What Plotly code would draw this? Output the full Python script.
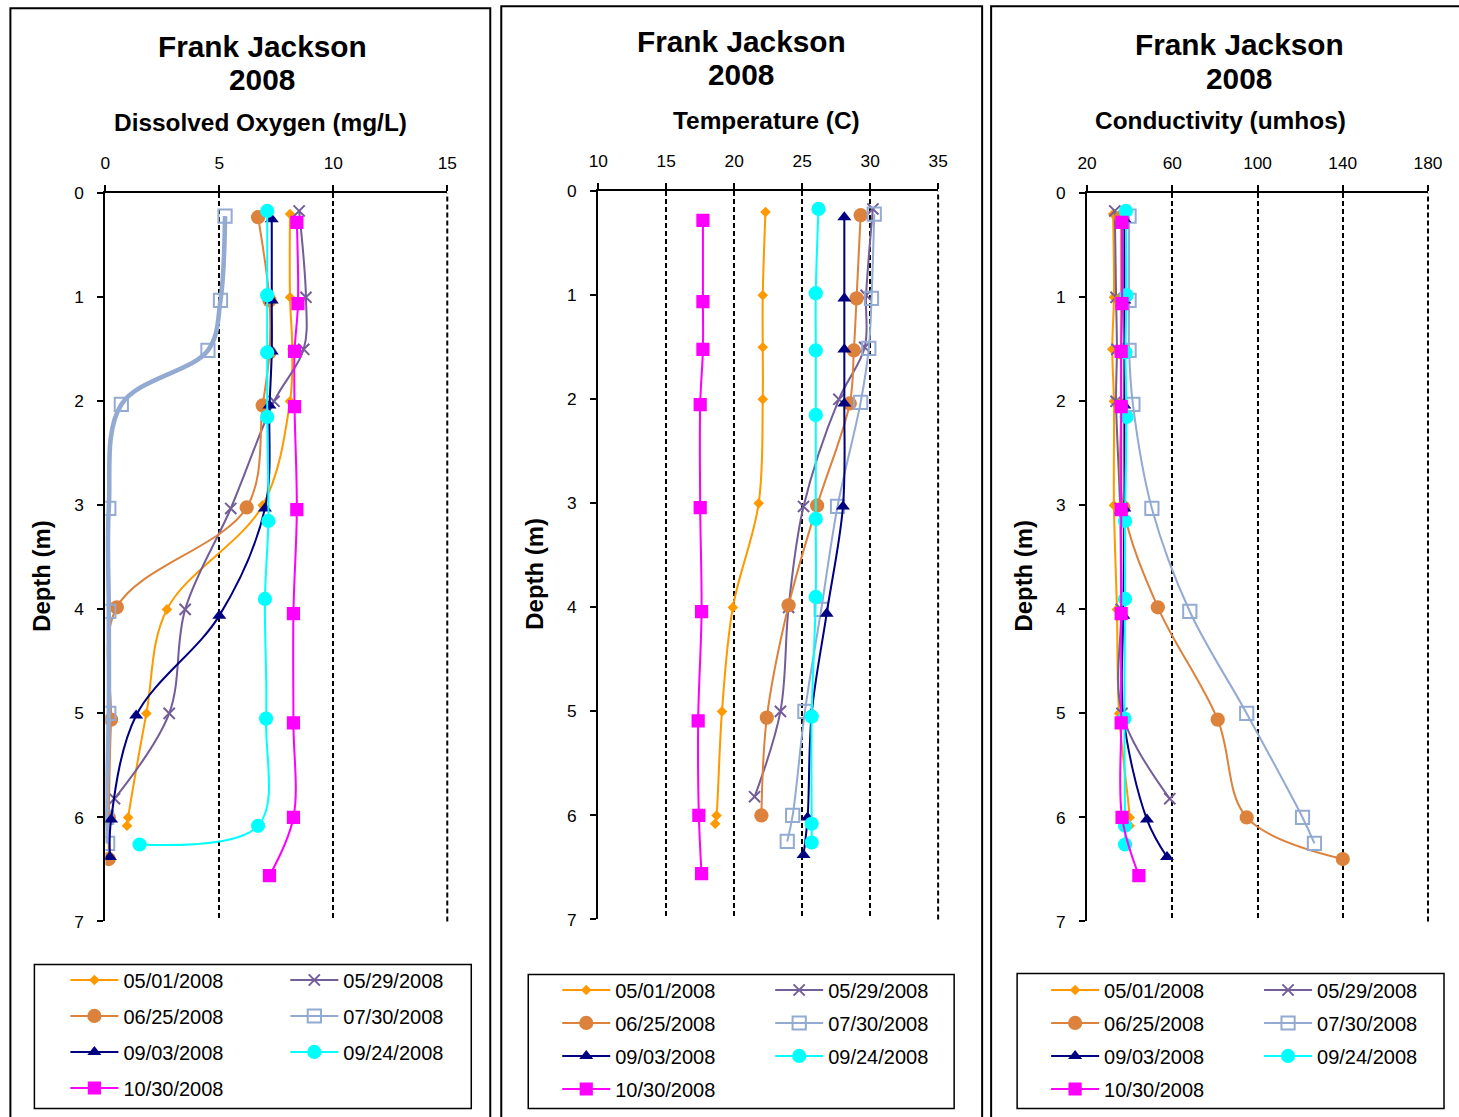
import plotly.graph_objects as go

# The photographed page is offset and slightly reduced relative to the figure;
# layout positions below are written in reference-image pixels and converted.
REF_W, REF_H = 1459, 1117
OX, OY = 8.6, 8.8          # page offset seen in the photo
SX, SY = 0.984, 0.982      # photo reduction factors
SZ = 1 / 0.983             # size compensation for fonts / markers
W = int(round((REF_W - OX) / SX)) + 1
H = int(round((REF_H - OY) / SY)) + 1

# ---------------- data ----------------
DATES = ["05/01/2008", "05/29/2008", "06/25/2008", "07/30/2008",
         "09/03/2008", "09/24/2008", "10/30/2008"]

# sampling depths (m) for each date
DEPTH_0501 = [0.2, 1.0, 1.5, 2.0, 3.0, 4.0, 5.0, 6.0, 6.08]
DEPTH_0529 = [0.17, 1.0, 1.5, 2.0, 3.03, 4.0, 5.0, 5.82]
DEPTH_0625 = [0.23, 1.03, 1.53, 2.04, 3.02, 3.98, 5.06, 6.0, 6.4]
DEPTH_0730 = [0.22, 1.03, 1.51, 2.03, 3.03, 4.02, 5.0, 6.0, 6.25]
DEPTH_0903 = [0.25, 1.03, 1.52, 2.04, 3.03, 4.06, 5.02, 6.02, 6.38]
DEPTH_0924 = [0.17, 0.98, 1.53, 2.15, 3.15, 3.9, 5.05, 6.08, 6.26]
DEPTH_1030 = [0.28, 1.06, 1.52, 2.05, 3.04, 4.04, 5.09, 6.0, 6.56]

# Dissolved oxygen (mg/L)
DO_0501 = [8.1, 8.1, 8.2, 8.1, 6.9, 2.7, 1.8, 1.0, 0.95]
DO_0529 = [8.5, 8.8, 8.7, 7.4, 5.5, 3.5, 2.8, 0.4]
DO_0625 = [6.7, 7.2, 7.2, 6.9, 6.2, 0.5, 0.25, 0.15, 0.15]
DO_0730 = [5.25, 5.05, 4.5, 0.7, 0.15, 0.15, 0.15, 0.05, 0.1]
DO_0903 = [7.3, 7.3, 7.3, 7.2, 7.0, 5.0, 1.35, 0.25, 0.2]
DO_0924 = [7.1, 7.1, 7.1, 7.1, 7.15, 7.0, 7.05, 6.7, 1.5]
DO_1030 = [8.4, 8.45, 8.3, 8.3, 8.4, 8.25, 8.25, 8.25, 7.2]

# Temperature (C)
TEMP_0501 = [22.3, 22.1, 22.1, 22.1, 21.8, 19.9, 19.1, 18.7, 18.6]
TEMP_0529 = [30.2, 29.7, 29.6, 27.7, 25.1, 24.0, 23.4, 21.5]
TEMP_0625 = [29.3, 29.0, 28.8, 28.5, 26.1, 24.0, 22.4, 22.0, None]
TEMP_0730 = [30.3, 30.1, 29.9, 29.3, 27.6, 26.4, 25.2, 24.3, 23.9]
TEMP_0903 = [28.1, 28.1, 28.1, 28.1, 28.0, 26.8, 25.7, 25.4, 25.1]
TEMP_0924 = [26.2, 26.0, 26.0, 26.0, 26.0, 26.0, 25.7, 25.7, 25.7]
TEMP_1030 = [17.7, 17.7, 17.7, 17.5, 17.5, 17.6, 17.35, 17.4, 17.6]

# Conductivity (umhos)
COND_0501 = [32.2, 32.6, 31.8, 32.6, 32.6, 34.0, 35.0, 40.0, 40.0]
COND_0529 = [33.0, 33.6, 34.0, 33.6, 35.5, 36.0, 36.4, 58.8]
COND_0625 = [36.0, 36.0, 36.0, 36.0, 37.0, 53.2, 81.3, 94.9, 140.0]
COND_0730 = [39.7, 39.7, 39.7, 41.5, 50.4, 68.2, 94.9, 121.1, 126.7]
COND_0903 = [37.5, 37.5, 37.5, 37.5, 37.5, 37.0, 37.0, 48.1, 57.5]
COND_0924 = [38.2, 38.5, 38.0, 38.5, 37.8, 37.8, 37.5, 37.8, 37.8]
COND_1030 = [36.4, 36.4, 36.0, 36.0, 36.0, 36.0, 36.0, 36.4, 44.3]

DEPTHS = [DEPTH_0501, DEPTH_0529, DEPTH_0625, DEPTH_0730, DEPTH_0903, DEPTH_0924, DEPTH_1030]
DO = [DO_0501, DO_0529, DO_0625, DO_0730, DO_0903, DO_0924, DO_1030]
TEMP = [TEMP_0501, TEMP_0529, TEMP_0625, TEMP_0730, TEMP_0903, TEMP_0924, TEMP_1030]
COND = [COND_0501, COND_0529, COND_0625, COND_0730, COND_0903, COND_0924, COND_1030]

PANEL_TITLES = ["Dissolved Oxygen (mg/L)", "Temperature (C)", "Conductivity (umhos)"]
X_RANGES = [[0, 15], [10, 35], [20, 180]]
X_DTICK = [5, 5, 40]

# ---------------- styles ----------------
COLORS = ["#FF9900", "#735E99", "#DC823C", "#93AAD2", "#000080", "#00FFFF", "#FF00FF"]
SYMBOLS = ["diamond", "x-thin-open", "circle", "square-open", "triangle-up", "circle", "square"]
MSIZES = [8, 11, 14, 13, 12, 14, 13]
FONT = "Liberation Sans, Arial, sans-serif"
GRID_DASH = "5px,3px"


def px_x(x):
    return ((x - OX) / SX) / W


def px_y(y):
    return 1 - ((y - OY) / SY) / H


def sz(v):
    return v * SZ


# layout boxes in reference pixels
PLOT_BOX = [(104, 446, 192, 920), (597, 937, 190, 918), (1086, 1427, 192, 920)]
PANEL_BORDER = [(9, 489, 7), (500, 981, 5), (990, 1475, 5)]
LEGEND_BOX = [(33, 470, 963, 1107), (527, 953, 973, 1107), (1016, 1443, 972, 1107)]
TITLE_CX = [261, 740, 1238]
TITLE_Y = [(45, 78), (40, 73), (43, 77)]
AXTITLE_C = [(259, 121), (765, 119), (1219, 119)]
YTITLE_C = [(40, 575), (533, 573), (1022, 575)]
LEG_LEFT = [(69, 289), (561, 774), (1050, 1263)]
LEG_TOP = [959, 969, 969]
LEG_GAP = [7, 4, 4]

fig = go.Figure()
VALUES = [DO, TEMP, COND]

for p in range(3):
    xa = "x" if p == 0 else f"x{p+1}"
    ya = "y" if p == 0 else f"y{p+1}"
    for i, date in enumerate(DATES):
        col_left = i in (0, 2, 4, 6)
        leg_name = f"legend{2*p+1}" if col_left else f"legend{2*p+2}"
        if leg_name == "legend1":
            leg_name = "legend"
        thick = (p == 0 and i == 3)
        if thick:
            # heavy smoothed line underneath (legend keeps the thin style)
            fig.add_trace(go.Scatter(
                x=VALUES[p][i], y=DEPTHS[i], mode="lines",
                line=dict(color=COLORS[i], width=sz(4.5), shape="spline", smoothing=1),
                xaxis=xa, yaxis=ya, showlegend=False, hoverinfo="skip",
            ))
        fig.add_trace(go.Scatter(
            x=VALUES[p][i], y=DEPTHS[i], name=date,
            mode="lines+markers",
            line=dict(color=COLORS[i], width=sz(2), shape="spline", smoothing=1),
            marker=dict(symbol=SYMBOLS[i], size=sz(MSIZES[i]), color=COLORS[i],
                        line=dict(color=COLORS[i], width=2 if SYMBOLS[i].endswith("open") else 0)),
            xaxis=xa, yaxis=ya, legend=leg_name, legendgroup=f"g{p}_{i}",
            showlegend=True, hoverinfo="skip",
        ))

layout = dict(
    width=W, height=H, margin=dict(l=0, r=0, t=0, b=0),
    paper_bgcolor="white", plot_bgcolor="white",
    font=dict(family=FONT, color="black"),
    showlegend=True,
)

shapes = []
annotations = []

for p in range(3):
    l, r, t, b = PLOT_BOX[p]
    xk = "xaxis" if p == 0 else f"xaxis{p+1}"
    yk = "yaxis" if p == 0 else f"yaxis{p+1}"
    ya = "y" if p == 0 else f"y{p+1}"
    xa = "x" if p == 0 else f"x{p+1}"
    layout[xk] = dict(
        domain=[px_x(l), px_x(r)], anchor=ya, side="top",
        range=X_RANGES[p], dtick=X_DTICK[p], tick0=X_RANGES[p][0],
        showgrid=True, gridcolor="black", griddash=GRID_DASH, gridwidth=2,
        zeroline=False, showline=True, linecolor="black", linewidth=2,
        ticks="outside", ticklen=sz(6), tickwidth=2, tickcolor="black",
        tickfont=dict(size=sz(17), family=FONT), ticklabelstandoff=9,
        fixedrange=True,
    )
    layout[yk] = dict(
        domain=[px_y(b), px_y(t)], anchor=xa,
        range=[7, 0], dtick=1, tick0=0,
        showgrid=False, zeroline=False, showline=True, linecolor="black", linewidth=2,
        ticks="outside", ticklen=sz(6), tickwidth=2, tickcolor="black",
        tickfont=dict(size=sz(17), family=FONT), ticklabelstandoff=10,
        fixedrange=True,
    )
    # grid line at the right edge of the plot area (plotly drops the edge grid line)
    shapes.append(dict(type="line", xref="paper", yref="paper",
                       x0=px_x(r), x1=px_x(r), y0=px_y(b), y1=px_y(t),
                       line=dict(color="black", width=2, dash=GRID_DASH), layer="below"))

    # legends (two columns)
    for c in range(2):
        idx = 2 * p + c + 1
        lk = "legend" if idx == 1 else f"legend{idx}"
        layout[lk] = dict(
            x=px_x(LEG_LEFT[p][c] - 5), y=px_y(LEG_TOP[p]),
            xanchor="left", yanchor="top", xref="paper", yref="paper",
            bgcolor="rgba(0,0,0,0)", borderwidth=0,
            font=dict(size=20, family=FONT), itemwidth=48,
            tracegroupgap=LEG_GAP[p], orientation="v",
        )

for p in range(3):
    x0, x1, y0 = PANEL_BORDER[p]
    shapes.append(dict(type="rect", xref="paper", yref="paper",
                       x0=px_x(x0), x1=px_x(x1), y0=px_y(REF_H + 20), y1=px_y(y0),
                       line=dict(color="black", width=2), fillcolor="rgba(0,0,0,0)", layer="below"))
    lx0, lx1, ly0, ly1 = LEGEND_BOX[p]
    shapes.append(dict(type="rect", xref="paper", yref="paper",
                       x0=px_x(lx0), x1=px_x(lx1), y0=px_y(ly1), y1=px_y(ly0),
                       line=dict(color="black", width=1.5), fillcolor="rgba(0,0,0,0)", layer="below"))
    for txt, yy in zip(["Frank Jackson", "2008"], TITLE_Y[p]):
        annotations.append(dict(text=txt, xref="paper", yref="paper",
                                x=px_x(TITLE_CX[p]), y=px_y(yy), xanchor="center", yanchor="middle",
                                showarrow=False, font=dict(size=sz(29.3), family=FONT, weight="bold")))
    annotations.append(dict(text=PANEL_TITLES[p], xref="paper", yref="paper",
                            x=px_x(AXTITLE_C[p][0]), y=px_y(AXTITLE_C[p][1]),
                            xanchor="center", yanchor="middle", showarrow=False,
                            font=dict(size=sz(24), family=FONT, weight="bold")))
    annotations.append(dict(text="Depth (m)", xref="paper", yref="paper",
                            x=px_x(YTITLE_C[p][0]), y=px_y(YTITLE_C[p][1]),
                            xanchor="center", yanchor="middle", showarrow=False, textangle=-90,
                            font=dict(size=sz(23.5), family=FONT, weight="bold")))

layout["shapes"] = shapes
layout["annotations"] = annotations
fig.update_layout(**layout)

fig.write_html("out.html")
